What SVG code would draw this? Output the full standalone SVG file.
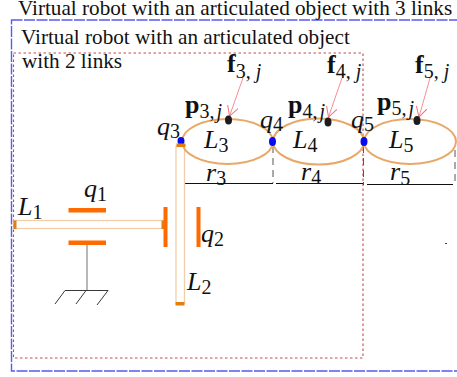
<svg xmlns="http://www.w3.org/2000/svg" width="457" height="377" viewBox="0 0 457 377">
<style>
text{font-family:"Liberation Serif","Times New Roman",serif;fill:#111}
.t{font-size:21.2px}
.m{font-size:26px;font-style:italic}
.s{font-size:20px;font-style:normal}
.b{font-size:26px;font-weight:bold}
.n{font-size:20px;font-weight:normal}
.i{font-style:italic}
.e{fill:none;stroke:#e8a868;stroke-width:2}
.d{stroke:#555;stroke-width:1;stroke-dasharray:7 5;fill:none}
.r{stroke:#111;stroke-width:1.2;fill:none}
.o{fill:#ff6a00}
.c{fill:#e07f10}
.l{fill:#fff;stroke:#f2cfa8;stroke-width:1.3}
.j{fill:#0a0aee}
.k{fill:#1c1c1c}
.a{stroke:#f4707a;stroke-width:.8;fill:none}
</style>
<defs><marker id="ah" viewBox="0 0 10 10" refX="9" refY="5" markerWidth="11" markerHeight="11" orient="auto" markerUnits="userSpaceOnUse"><path d="M0 0L9 5L0 10" fill="none" stroke="#f4707a" stroke-width=".9"/></marker></defs>
<rect id="outer-frame" x="11.500" y="20" width="470" height="351" fill="none" stroke="#5a5af0" stroke-width="1.400" stroke-dasharray="11 1.500"/>
<rect id="inner-frame" x="13.500" y="53" width="349.500" height="305" fill="none" stroke="#c24a55" stroke-width="1.100" stroke-dasharray="2.500 2.500"/>
<g id="titles">
<text class="t" x="18" y="15">Virtual robot with an articulated object with 3 links</text>
<text class="t" x="21" y="44">Virtual robot with an articulated object</text>
<text class="t" x="22" y="68">with 2 links</text>
</g>
<g id="connectors">
<path class="d" d="M181 146V183M273 146V183M363.500 146V185M455 150V185"/>
<path class="r" d="M181 183.500H273M276 183.500H363M367 184.500H453"/>
<path class="a" marker-end="url(#ah)" d="M243 78L229.500 116"/>
<path class="a" marker-end="url(#ah)" d="M342 78L328.500 117"/>
<path class="a" marker-end="url(#ah)" d="M430 78L419 117"/>
<path d="M87 244V290" stroke="#888" stroke-width="1.200"/>
<path d="M65 290.500H108M65 290.500L55 304M86 290.500L76 304M108 290.500L97 305" stroke="#222" fill="none" stroke-width=".9"/>
</g>
<g id="link-1"><rect class="l" x="14" y="220.500" width="151" height="8"/><rect class="c" x="13.500" y="220.500" width="3" height="8.500"/><rect class="c" x="161.500" y="220.500" width="4" height="8.500"/><text class="m" x="18" y="215">L<tspan class="s" dy="4">1</tspan></text></g>
<g id="joint-q1"><rect class="o" x="68.500" y="208" width="37.500" height="4.500"/><rect class="o" x="68.500" y="240.500" width="37.500" height="4.500"/><text class="m" x="84" y="197">q<tspan class="s" dy="4">1</tspan></text></g>
<g id="joint-q2"><rect class="o" x="163.500" y="207" width="4" height="40"/><rect class="o" x="196.500" y="207" width="4" height="40"/><text class="m" x="201" y="242">q<tspan class="s" dy="4">2</tspan></text></g>
<g id="link-2"><rect class="l" x="176" y="146" width="8.500" height="157"/><rect class="c" x="175.500" y="302" width="9" height="3.500"/><text class="m" x="187" y="290">L<tspan class="s" dy="4">2</tspan></text></g>
<g id="link-3"><ellipse class="e" cx="227.500" cy="141.500" rx="45.500" ry="22.500"/><text class="m" x="204" y="148">L<tspan class="s" dy="4">3</tspan></text><text class="m" x="206" y="181">r<tspan class="s" dy="4">3</tspan></text><ellipse class="k" cx="228.500" cy="120" rx="3.500" ry="4.500"/><text class="b" x="185" y="113">p<tspan class="n" dy="5">3,<tspan class="i" dx="2">j</tspan></tspan></text><text class="b" x="227" y="72">f<tspan class="n" dy="6">3, <tspan class="i">j</tspan></tspan></text></g>
<g id="link-4"><ellipse class="e" cx="318.500" cy="141.500" rx="45.500" ry="23"/><text class="m" x="293" y="148">L<tspan class="s" dy="4">4</tspan></text><text class="m" x="301" y="180">r<tspan class="s" dy="4">4</tspan></text><ellipse class="k" cx="328" cy="122" rx="3.500" ry="4.500"/><text class="b" x="288" y="113">p<tspan class="n" dy="5">4,<tspan class="i" dx="2">j</tspan></tspan></text><text class="b" x="327" y="73">f<tspan class="n" dy="5">4, <tspan class="i">j</tspan></tspan></text></g>
<g id="link-5"><ellipse class="e" cx="410" cy="141.500" rx="46" ry="22.500"/><text class="m" x="389" y="148">L<tspan class="s" dy="4">5</tspan></text><text class="m" x="390" y="180">r<tspan class="s" dy="5">5</tspan></text><ellipse class="k" cx="417" cy="120.500" rx="3.500" ry="4.500"/><text class="b" x="377" y="110">p<tspan class="n" dy="5">5,<tspan class="i" dx="2">j</tspan></tspan></text><text class="b" x="415" y="73">f<tspan class="n" dy="5">5, <tspan class="i">j</tspan></tspan></text></g>
<g id="joint-q3"><ellipse class="j" cx="181" cy="141" rx="3.500" ry="4"/><rect class="c" x="176.500" y="143.500" width="9" height="3.500"/><text class="m" x="157" y="135">q<tspan class="s" dy="3">3</tspan></text></g>
<g id="joint-q4"><ellipse class="j" cx="272.500" cy="141.500" rx="3.500" ry="4.500"/><text class="m" x="260" y="128">q<tspan class="s" dy="3">4</tspan></text></g>
<g id="joint-q5"><ellipse class="j" cx="364" cy="141.500" rx="3.500" ry="4.500"/><text class="m" x="351" y="128">q<tspan class="s" dy="3">5</tspan></text></g>
<rect x="445" y="243" width="2" height="1" fill="#444"/>
</svg>
